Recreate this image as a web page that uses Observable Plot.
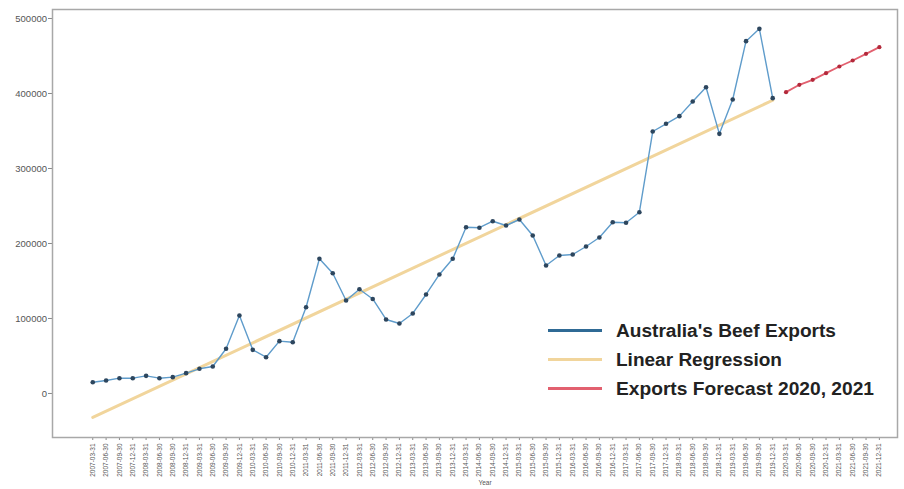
<!DOCTYPE html>
<html><head><meta charset="utf-8">
<script src="https://cdn.jsdelivr.net/npm/d3@7"></script>
<script src="https://cdn.jsdelivr.net/npm/@observablehq/plot@0.6"></script>
<style>
body{margin:0;background:#fff;}
#wrap{position:relative;width:904px;height:489px;font-family:"Liberation Sans",Arial,sans-serif;}
</style>
</head><body><div id="wrap"></div>
<script>
// quarter labels (x axis tick labels)
const quarterLabels = [
"2007-03-31","2007-06-30","2007-09-30","2007-12-31",
"2008-03-31","2008-06-30","2008-09-30","2008-12-31",
"2009-03-31","2009-06-30","2009-09-30","2009-12-31",
"2010-03-31","2010-06-30","2010-09-30","2010-12-31",
"2011-03-31","2011-06-30","2011-09-30","2011-12-31",
"2012-03-31","2012-06-30","2012-09-30","2012-12-31",
"2013-03-31","2013-06-30","2013-09-30","2013-12-31",
"2014-03-31","2014-06-30","2014-09-30","2014-12-31",
"2015-03-31","2015-06-30","2015-09-30","2015-12-31",
"2016-03-31","2016-06-30","2016-09-30","2016-12-31",
"2017-03-31","2017-06-30","2017-09-30","2017-12-31",
"2018-03-31","2018-06-30","2018-09-30","2018-12-31",
"2019-03-31","2019-06-30","2019-09-30","2019-12-31",
"2020-03-31","2020-06-30","2020-09-30","2020-12-31",
"2021-03-31","2021-06-30","2021-09-30","2021-12-31"
];
// Australia's beef exports (historical)
const beefExports = [
15000,17300,20400,20400,23500,20400,21800,27100,
32900,36000,59600,104000,58200,48400,69800,68400,
115000,179600,160400,124000,139000,126000,98700,93300,
106700,132000,158700,179600,221700,221000,229700,224000,
232000,210700,170700,184000,185300,196000,208000,228400,
227600,241700,349300,359600,369800,389300,408400,346200,
392000,469800,486200,393800
];
// forecast 2020, 2021
const forecastValues = [401800,411600,418200,427100,436000,444000,452900,461800];
// linear regression line: values at first and last historical quarter
const regressionIdx = [0, 51];
const regressionValues = [-32000, 391000];
// y tick values
const yTicks = [0,100000,200000,300000,400000,500000];
// legend entries
const legendLabels = ["Australia's Beef Exports","Linear Regression","Exports Forecast 2020, 2021"];

const hist = beefExports.map((v,i)=>({i, value:v}));
const fc = forecastValues.map((v,k)=>({i: beefExports.length + k, value:v}));
const reg = regressionValues.map((v,k)=>({i: regressionIdx[k], value:v}));
const xTickIdx = quarterLabels.map((d,i)=>i);

const cBlue = "#5f9ccb", cBlueDot = "#2d465e", cBlueLeg = "#2f6a95";
const cReg = "#f1d59c";
const cRed = "#e2606f", cRedDot = "#b3293b";

const chart = Plot.plot({
  width: 904, height: 489,
  marginLeft: 52, marginRight: 7, marginTop: 9, marginBottom: 52,
  style: {background:"#fff", fontFamily:"Liberation Sans, Arial, sans-serif", color:"#555"},
  x: {domain: [-3.02, 60.36]},
  y: {domain: [-58700, 512000]},
  marks: [
    Plot.axisY({ticks: yTicks, tickFormat: d => String(d), fontSize: 9.5, tickSize: 4, tickPadding: 1.5, stroke:"#888", fill:"#555", label: null}),
    Plot.axisX({ticks: xTickIdx, tickFormat: i => quarterLabels[i], tickRotate: -90, fontSize: 6.5, tickSize: 3, tickPadding: 3, stroke:"#888", fill:"#555", label: null}),
    Plot.text(["Year"], {frameAnchor: "bottom", dx: 10, dy: 47, fontSize: 6.5, fill: "#555"}),
    Plot.line(reg, {x: "i", y: "value", stroke: cReg, strokeWidth: 3}),
    Plot.line(hist, {x: "i", y: "value", stroke: cBlue, strokeWidth: 1.4}),
    Plot.dot(hist, {x: "i", y: "value", r: 2.3, fill: cBlueDot}),
    Plot.line(fc, {x: "i", y: "value", stroke: cRed, strokeWidth: 1.8}),
    Plot.dot(fc, {x: "i", y: "value", r: 2.1, fill: cRedDot}),
    Plot.frame({stroke: "#a8a8a8", strokeWidth: 1.5})
  ]
});
document.getElementById("wrap").appendChild(chart);

// legend drawn into the svg
const svg = d3.select(chart);
const legColors = [cBlueLeg, cReg, cRed];
const legY = [330.5, 359.5, 388.5];
const legW = [220, 166, 258];
const g = svg.append("g").attr("text-anchor", "start");
legendLabels.forEach((lab, k) => {
  g.append("line").attr("x1", 548).attr("x2", 602).attr("y1", legY[k]).attr("y2", legY[k])
    .attr("stroke", legColors[k]).attr("stroke-width", 3);
  g.append("text").attr("x", 616).attr("y", legY[k]).attr("dy", "0.36em")
    .attr("text-anchor", "start")
    .attr("font-size", 18).attr("font-weight", 600).attr("fill", "#222")
    .attr("font-family", "Liberation Sans, Arial, sans-serif")
    .attr("textLength", legW[k]).attr("lengthAdjust", "spacingAndGlyphs")
    .text(lab);
});
</script>
</body></html>
